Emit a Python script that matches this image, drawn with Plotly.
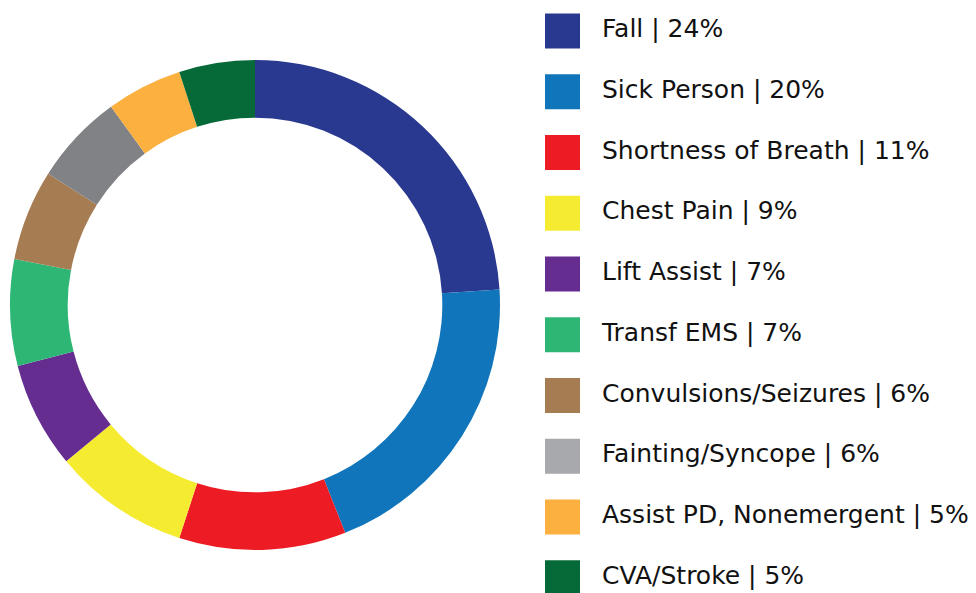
import plotly.graph_objects as go

categories = ["Fall", "Sick Person", "Shortness of Breath", "Chest Pain", "Lift Assist",
              "Transf EMS", "Convulsions/Seizures", "Fainting/Syncope",
              "Assist PD, Nonemergent", "CVA/Stroke"]
percents = [24, 20, 11, 9, 7, 7, 6, 6, 5, 5]
slice_colors = ["#2a3990", "#1175bb", "#ed1c24", "#f5ec32", "#662d91",
                "#2db674", "#a67c52", "#808285", "#fbb040", "#066a38"]
legend_colors = ["#2a3990", "#1175bb", "#ed1c24", "#f5ec32", "#662d91",
                 "#2db674", "#a67c52", "#a7a9ac", "#fbb040", "#066a38"]
labels = [f"{c} | {p}%" for c, p in zip(categories, percents)]
rows = list(range(len(categories)))

W, H = 976, 593
OFF = 8  # browser body margin
fig = go.Figure()
fig.add_trace(go.Pie(
    labels=categories, values=percents, sort=False, direction="clockwise",
    rotation=0, hole=0.7645, textinfo="none", hoverinfo="label+percent",
    marker=dict(colors=slice_colors, line=dict(width=0)),
    domain=dict(x=[(10 - OFF) / W, (500 - OFF) / W],
                y=[(H - 550 + OFF) / H, (H - 60 + OFF) / H]),
    showlegend=False,
))
fig.add_trace(go.Scatter(
    x=[0] * len(rows), y=rows, mode="markers",
    marker=dict(symbol="square", size=35, color=legend_colors, line=dict(width=0)),
    xaxis="x2", yaxis="y2", showlegend=False, hoverinfo="skip", cliponaxis=False,
))
fig.add_trace(go.Scatter(
    x=[0.0809] * len(rows), y=rows, mode="text", text=labels,
    textposition="middle right",
    textfont=dict(family="DejaVu Sans", size=25, color="#111111"),
    xaxis="x2", yaxis="y2", showlegend=False, hoverinfo="skip", cliponaxis=False,
))
fig.update_layout(
    width=W, height=H, margin=dict(l=0, r=0, t=0, b=0),
    paper_bgcolor="white", plot_bgcolor="white",
    xaxis2=dict(domain=[0.5, 1], range=[-0.1363, 0.8637], visible=False, fixedrange=True),
    yaxis2=dict(domain=[0, 1], range=[9.383, -0.3786], visible=False, fixedrange=True, anchor="x2"),
    xaxis=dict(visible=False), yaxis=dict(visible=False),
)
fig.write_html("out.html")
